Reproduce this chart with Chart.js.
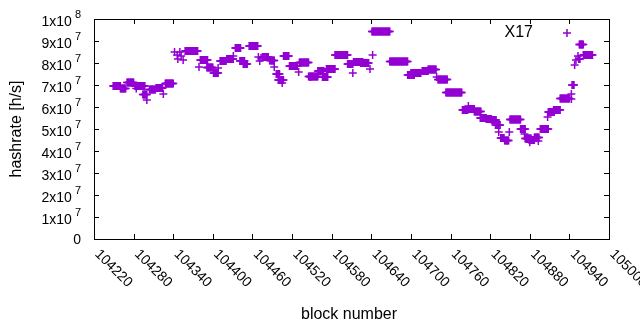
<!DOCTYPE html>
<html lang="en">
<head>
    <meta charset="UTF-8">
    <title>X17 hashrate</title>
    <script src="https://cdn.jsdelivr.net/npm/chart.js"></script>
    <style>
        body { margin: 0; background: #fff; }
        #wrap { width: 640px; height: 330px; }
    </style>
</head>
<body>
<div id="wrap"><canvas id="hashChart" width="640" height="330"></canvas></div>
<script>
    // runs of blocks that share one hashrate value (value in units of 1e7 h/s)
    const runStart = [104249, 104260, 104270, 104282, 104284, 104294, 104300, 104304, 104314, 104325,
        104328, 104342, 104346, 104347, 104350, 104352, 104355, 104358, 104379, 104381,
        104391, 104401, 104408, 104411, 104421, 104431, 104434, 104441, 104446, 104455,
        104469, 104471, 104473, 104475, 104486, 104493, 104496, 104499, 104505, 104507,
        104516, 104530, 104531, 104545, 104548, 104559, 104566, 104572, 104585, 104604,
        104612, 104613, 104624, 104638, 104642, 104641, 104668, 104695, 104700, 104717,
        104726, 104739, 104741, 104753, 104778, 104787, 104787, 104796, 104805, 104814,
        104822, 104828, 104833, 104836, 104842, 104849, 104850, 104866, 104872, 104873,
        104879, 104880, 104887, 104893, 104896, 104907, 104908, 104916, 104926, 104943,
        104943, 104944, 104948, 104950, 104953, 104954, 104955, 104961];
    const runEnd = [104260, 104268, 104280, 104297, 104284, 104300, 104300, 104313, 104324, 104325,
        104340, 104342, 104346, 104347, 104350, 104352, 104355, 104377, 104379, 104392,
        104400, 104408, 104408, 104420, 104431, 104431, 104442, 104448, 104452, 104468,
        104469, 104471, 104473, 104484, 104493, 104493, 104501, 104507, 104505, 104515,
        104528, 104530, 104545, 104559, 104548, 104568, 104574, 104585, 104604, 104612,
        104612, 104627, 104636, 104638, 104642, 104668, 104695, 104705, 104715, 104726,
        104738, 104739, 104755, 104777, 104786, 104787, 104796, 104806, 104814, 104822,
        104829, 104835, 104833, 104841, 104848, 104849, 104866, 104873, 104872, 104882,
        104887, 104880, 104894, 104893, 104908, 104907, 104917, 104926, 104940, 104943,
        104943, 104947, 104948, 104950, 104953, 104956, 104961, 104975];
    const runRate = [6.95, 6.84, 7.11, 6.95, 6.84, 6.57, 6.32, 6.80, 6.86, 6.59,
        7.07, 8.50, 8.36, 8.18, 8.50, 8.32, 8.14, 8.55, 7.82, 8.14,
        7.80, 7.55, 7.77, 8.09, 8.18, 8.32, 8.68, 8.09, 7.95, 8.77,
        8.27, 8.09, 8.23, 8.27, 8.11, 7.82, 7.50, 7.23, 7.09, 8.32,
        7.86, 7.59, 8.02, 7.39, 7.36, 7.64, 7.36, 7.73, 8.36, 7.95,
        7.55, 8.05, 8.00, 7.73, 8.36, 9.43, 8.07, 7.45, 7.55, 7.64,
        7.70, 7.36, 7.25, 6.66, 5.86, 6.05, 5.91, 5.80, 5.50, 5.45,
        5.41, 5.18, 4.86, 4.59, 4.48, 4.86, 5.43, 5.00, 4.77, 4.57,
        4.50, 4.40, 4.61, 4.45, 5.00, 5.55, 5.77, 5.86, 6.39, 6.59,
        6.36, 7.00, 7.91, 8.14, 8.32, 8.18, 8.84, 8.36];

    const seriesName = 'X17';
    const xTickValues = [104220, 104280, 104340, 104400, 104460, 104520, 104580,
        104640, 104700, 104760, 104820, 104880, 104940, 105000];
    const yTickValues = [0, 1e7, 2e7, 3e7, 4e7, 5e7, 6e7, 7e7, 8e7, 9e7, 1e8];
    const yTickBase = ['0', '1x10', '2x10', '3x10', '4x10', '5x10', '6x10', '7x10', '8x10', '9x10', '1x10'];
    const yTickPower = ['', '7', '7', '7', '7', '7', '7', '7', '7', '7', '8'];

    const violet = '#9400d3';
    const fontName = '"Liberation Sans", Arial, sans-serif';

    // one point per block inside every run
    const points = [];
    runStart.forEach((s, i) => {
        for (let b = s; b <= runEnd[i]; b++) {
            points.push({ x: b, y: runRate[i] * 1e7 });
        }
    });

    // gnuplot style frame: border, inward ticks on all sides, labels, key
    const gnuplotFrame = {
        id: 'gnuplotFrame',
        afterDraw(chart) {
            const { ctx, chartArea: a } = chart;
            const xs = chart.scales.x, ys = chart.scales.y;
            ctx.save();
            ctx.strokeStyle = '#000';
            ctx.lineWidth = 1;
            ctx.strokeRect(a.left + 0.5, a.top + 0.5, a.right - a.left, a.bottom - a.top);

            ctx.beginPath();
            xTickValues.forEach(v => {
                const px = Math.round(xs.getPixelForValue(v)) + 0.5;
                ctx.moveTo(px, a.bottom);
                ctx.lineTo(px, a.bottom - 5);
                ctx.moveTo(px, a.top);
                ctx.lineTo(px, a.top + 5);
            });
            yTickValues.forEach(v => {
                const py = Math.round(ys.getPixelForValue(v)) + 0.5;
                ctx.moveTo(a.left, py);
                ctx.lineTo(a.left + 5, py);
                ctx.moveTo(a.right, py);
                ctx.lineTo(a.right - 5, py);
            });
            ctx.stroke();

            ctx.fillStyle = '#000';
            // y tick labels with raised exponent
            yTickValues.forEach((v, i) => {
                const py = ys.getPixelForValue(v);
                const right = 81;
                ctx.textBaseline = 'middle';
                ctx.textAlign = 'right';
                if (!yTickPower[i]) {
                    ctx.font = '14px ' + fontName;
                    ctx.fillText(yTickBase[i], right, py + 1);
                    return;
                }
                ctx.font = '11px ' + fontName;
                const supW = ctx.measureText(yTickPower[i]).width;
                ctx.fillText(yTickPower[i], right, py - 4);
                ctx.font = '14px ' + fontName;
                ctx.fillText(yTickBase[i], right - supW - 3, py + 3);
            });

            // x tick labels, rotated clockwise, starting at the tick
            ctx.font = '14px ' + fontName;
            ctx.textAlign = 'left';
            ctx.textBaseline = 'middle';
            xTickValues.forEach(v => {
                const px = xs.getPixelForValue(v);
                ctx.save();
                ctx.translate(px + 3, a.bottom + 13);
                ctx.rotate(Math.PI / 4);
                ctx.fillText(String(v), 0, 0);
                ctx.restore();
            });

            // axis titles
            ctx.font = '16px ' + fontName;
            ctx.textAlign = 'center';
            ctx.fillText('block number', 349, 315);
            ctx.save();
            ctx.translate(17, 129);
            ctx.rotate(-Math.PI / 2);
            ctx.fillText('hashrate [h/s]', 0, 0);
            ctx.restore();

            // key
            ctx.textAlign = 'right';
            ctx.fillText(chart.data.datasets[0].label, 533, 33);
            ctx.strokeStyle = violet;
            ctx.lineWidth = 1.5;
            ctx.beginPath();
            ctx.moveTo(563, 33);
            ctx.lineTo(571, 33);
            ctx.moveTo(567, 29);
            ctx.lineTo(567, 37);
            ctx.stroke();
            ctx.restore();
        }
    };

    new Chart(document.getElementById('hashChart'), {
        type: 'scatter',
        data: {
            datasets: [{
                label: seriesName,
                data: points,
                pointStyle: 'cross',
                pointRadius: 4,
                pointBorderWidth: 1.5,
                borderColor: violet,
                backgroundColor: violet
            }]
        },
        options: {
            responsive: false,
            animation: false,
            devicePixelRatio: 1,
            layout: { padding: { left: 94, right: 31, top: 19, bottom: 91 } },
            plugins: { legend: { display: false }, tooltip: { enabled: false } },
            scales: {
                x: { type: 'linear', min: 104220, max: 105000, display: false },
                y: { min: 0, max: 1e8, display: false }
            }
        },
        plugins: [gnuplotFrame]
    });
</script>
</body>
</html>
